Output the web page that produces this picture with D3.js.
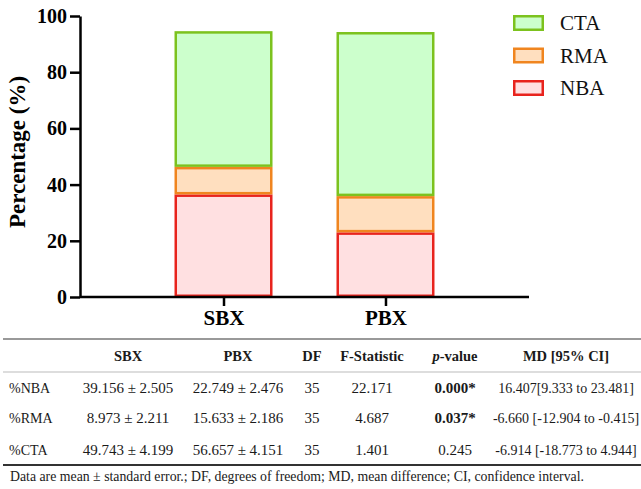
<!DOCTYPE html>
<html lang="en">
<head>
<meta charset="utf-8">
<script src="https://d3js.org/d3.v7.min.js"></script>
<title>Percentage by group</title>
<style>
body{
margin: 0;
background: #ffffff;
}
svg text{
font-family: "Liberation Serif", Tinos, "Times New Roman", Times, "DejaVu Serif", serif;
}
</style>
</head>
<body>
<svg width="641" height="489"></svg>
<script>
// chart values
var categories = ["SBX", "PBX"];
var seriesNames = ["NBA", "RMA", "CTA"];
var nbaValues = [36.5, 23.0];
var rmaValues = [9.8, 12.9];
var ctaValues = [48.3, 58.4];
var yTicks = [0, 20, 40, 60, 80, 100];

// table below the chart
var tableHeader = ["", "SBX", "PBX", "DF", "F-Statistic", "p-value", "MD [95% CI]"];
var rowLabels = ["%NBA", "%RMA", "%CTA"];
var sbxCol = ["39.156 ± 2.505", "8.973 ± 2.211", "49.743 ± 4.199"];
var pbxCol = ["22.749 ± 2.476", "15.633 ± 2.186", "56.657 ± 4.151"];
var dfCol = ["35", "35", "35"];
var fCol = ["22.171", "4.687", "1.401"];
var pCol = ["0.000*", "0.037*", "0.245"];
var mdCol = ["16.407[9.333 to 23.481]", "-6.660 [-12.904 to -0.415]", "-6.914 [-18.773 to 4.944]"];
var footnote = "Data are mean ± standard error.; DF, degrees of freedom; MD, mean difference; CI, confidence interval.";

var fills = {NBA: "#ffe0e1", RMA: "#ffdfbf", CTA: "#ccffcc"};
var strokes = {NBA: "#e8231d", RMA: "#f0851f", CTA: "#7cc21e"};

var svg = d3.select("svg");

var x = d3.scalePoint().domain(categories).range([80, 529]).padding(0.886);
var y = d3.scaleLinear().domain([0, 100]).range([297, 16]);
var barW = 98;
var sw = 2.5;

var rows = categories.map(function(c, i){
  return {cat: c, NBA: nbaValues[i], RMA: rmaValues[i], CTA: ctaValues[i]};
});
var stacked = d3.stack().keys(seriesNames)(rows);

svg.append("g").selectAll("g")
.data(stacked).enter()
.append("g")
.attr("fill", function(d){return fills[d.key]})
.attr("stroke", function(d){return strokes[d.key]})
.attr("stroke-width", sw)
.selectAll("rect")
.data(function(d){return d}).enter()
.append("rect")
.attr("x", function(d){return x(d.data.cat) - barW/2 + sw/2})
.attr("width", barW - sw)
.attr("y", function(d){return y(d[1]) + sw/2})
.attr("height", function(d){return y(d[0]) - y(d[1]) - sw});

// y axis
var yAxis = svg.append("g")
.attr("transform", "translate(80,0)")
.call(d3.axisLeft(y).tickValues(yTicks).tickSize(10).tickSizeOuter(0).tickPadding(3));
yAxis.selectAll("path, line").attr("stroke", "#000").attr("stroke-width", 2.5);
yAxis.selectAll("text")
.attr("font-weight", "bold")
.attr("font-size", 20)
.attr("fill", "#000");

// x axis
var xAxis = svg.append("g")
.attr("transform", "translate(0,297)")
.call(d3.axisBottom(x).tickSize(9).tickSizeOuter(0).tickPadding(4));
xAxis.select(".domain").attr("d", "M80,0H529");
xAxis.selectAll("path, line").attr("stroke", "#000").attr("stroke-width", 2.5);
xAxis.selectAll("text")
.attr("font-weight", "bold")
.attr("font-size", 21)
.attr("fill", "#000");

svg.append("text")
.attr("transform", "translate(25,152) rotate(-90)")
.attr("text-anchor", "middle")
.attr("font-weight", "bold")
.attr("font-size", 23)
.text("Percentage (%)");

// legend
var legendOrder = ["CTA", "RMA", "NBA"];
var leg = svg.append("g").selectAll("g")
.data(legendOrder).enter()
.append("g")
.attr("transform", function(d, i){return "translate(513," + (15 + i*32.5) + ")"});
leg.append("rect")
.attr("x", sw/2).attr("y", sw/2)
.attr("width", 31 - sw).attr("height", 16 - sw)
.attr("fill", function(d){return fills[d]})
.attr("stroke", function(d){return strokes[d]})
.attr("stroke-width", sw);
leg.append("text")
.attr("x", 47).attr("y", 15)
.attr("font-size", 21)
.attr("fill", "#111")
.text(function(d){return d});

// table
var colX = [9, 128, 238, 312, 372, 455, 566];
var colSize = [14, 15, 15, 15, 15, 15, 14];
var t = svg.append("g").attr("font-size", 15).attr("fill", "#1a1a1a");

t.append("line").attr("x1", 3).attr("x2", 641).attr("y1", 339).attr("y2", 339)
.attr("stroke", "#999").attr("stroke-width", 2);
t.append("line").attr("x1", 3).attr("x2", 641).attr("y1", 372).attr("y2", 372)
.attr("stroke", "#ddd").attr("stroke-width", 2);
t.append("line").attr("x1", 3).attr("x2", 641).attr("y1", 465).attr("y2", 465)
.attr("stroke", "#333").attr("stroke-width", 2);

var head = t.append("g").attr("font-weight", "bold").attr("font-size", 14.5);
tableHeader.forEach(function(h, i){
  if (!h) return;
  var tx = head.append("text").attr("x", colX[i]).attr("y", 361).attr("text-anchor", "middle");
  if (h == "p-value") {
    tx.append("tspan").attr("font-style", "italic").text("p");
    tx.append("tspan").text("-value");
  } else {
    tx.text(h);
  }
});

var cols = [rowLabels, sbxCol, pbxCol, dfCol, fCol, pCol, mdCol];
var rowY = [393, 423, 455];
cols.forEach(function(col, ci){
  t.selectAll(null)
  .data(col).enter()
  .append("text")
  .attr("x", colX[ci])
  .attr("y", function(d, ri){return rowY[ri]})
  .attr("font-size", colSize[ci])
  .attr("text-anchor", ci == 0 ? "start" : "middle")
  .attr("font-weight", function(d){return (ci == 5 && d.indexOf("*") > 0) ? "bold" : null})
  .text(function(d){return d});
});

svg.append("text")
.attr("x", 10).attr("y", 481)
.attr("font-size", 13.8)
.attr("fill", "#1a1a1a")
.text(footnote);
</script>
</body>
</html>
